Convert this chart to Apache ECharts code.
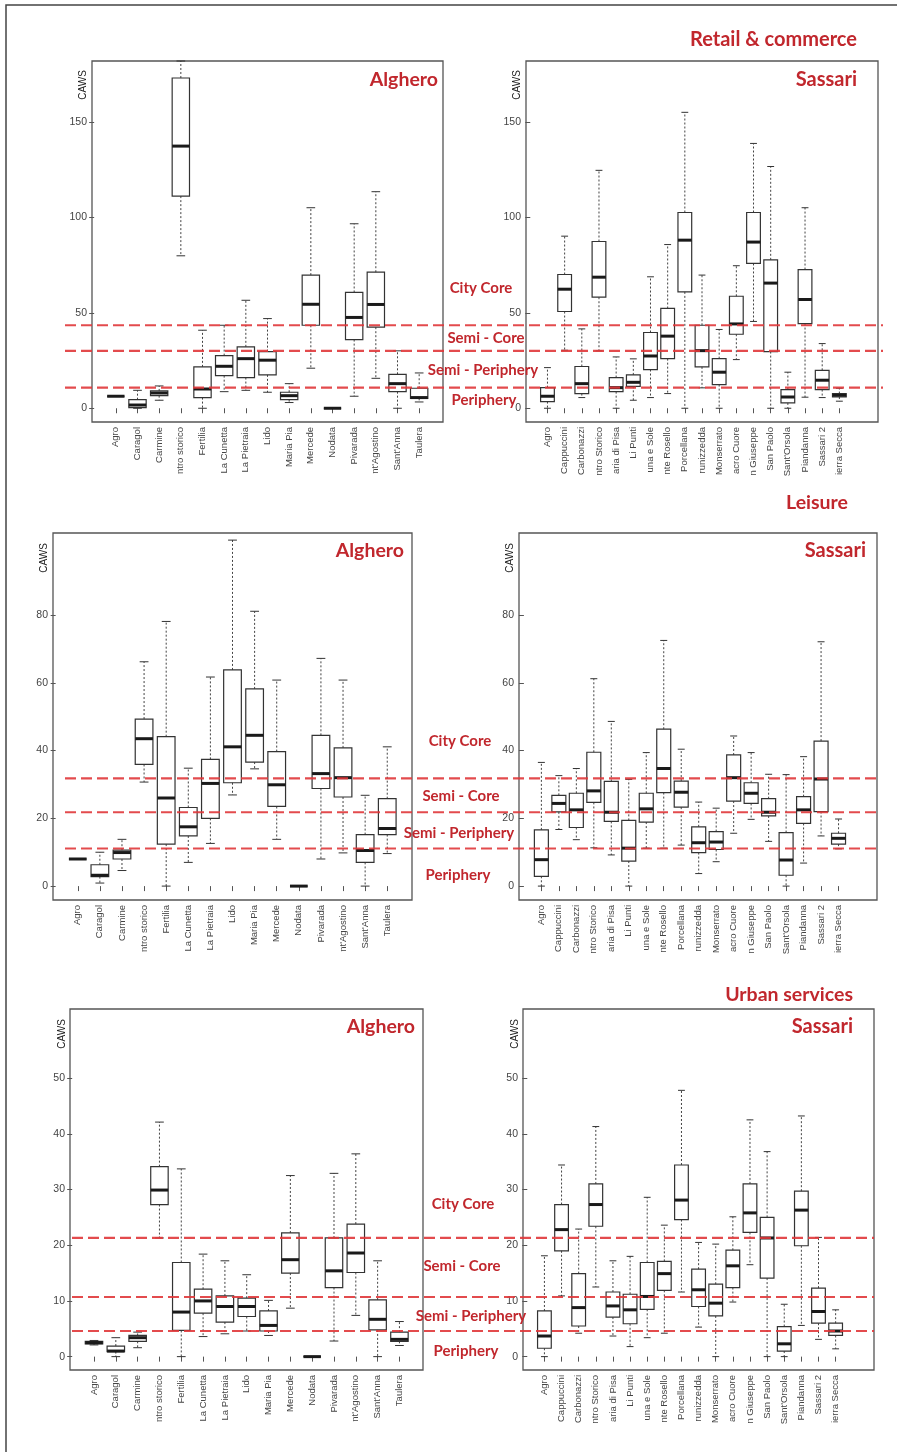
<!DOCTYPE html>
<html><head><meta charset="utf-8">
<script src="https://cdn.jsdelivr.net/npm/echarts@6/dist/echarts.min.js"></script>
<style>html,body{margin:0;padding:0;background:#fff}#c{width:897px;height:1452px}</style>
</head><body><div id="c"></div>
<script>
// ---------- categories ----------
const algheroCats = ['Agro','Caragol','Carmine','ntro storico','Fertilia','La Cunetta','La Pietraia','Lido','Maria Pia','Mercede','Nodata','Pivarada',"nt'Agostino","Sant'Anna",'Taulera'];
const sassariCats = ['Agro','Cappuccini','Carbonazzi','ntro Storico','aria di Pisa','Li Punti','una e Sole','nte Rosello','Porcellana','runizzedda','Monserrato','acro Cuore','n Giuseppe','San Paolo',"Sant'Orsola",'Piandanna','Sassari 2','ierra Secca'];

// ---------- values: [lower whisker, Q1, median, Q3, upper whisker] ----------
const retailAlghero = [
 [6.3,6.3,6.3,6.3,6.3],[0,0.3,1.7,4.5,9.4],[4.2,6.6,8.0,9.1,11.7],[79.9,111.2,137.4,173.1,182],
 [0,5.6,10.1,21.7,40.9],[8.7,17.1,22.0,27.6,43.5],[9.4,16.1,26.0,32.2,56.6],[8.4,17.5,25.2,29.7,47.0],
 [3.0,4.5,6.6,8.4,12.9],[21.0,43.5,54.5,69.8,105.1],[0,0,0,0,0],[6.3,36.0,47.6,60.7,96.7],
 [15.7,42.5,54.4,71.3,113.5],[0,8.7,12.9,17.8,30.1],[3.3,5.2,5.6,10.5,18.5]
];
const retailSassari = [
 [0,3.5,6.3,10.8,21.3],[30.4,50.7,62.4,70.1,90.2],[5.6,7.7,12.9,21.9,41.6],[30.1,58.2,68.7,87.4,124.7],
 [0,8.7,10.8,16.1,26.9],[4.2,11.5,13.6,17.5,25.9],[5.6,20.3,27.4,39.7,68.9],[7.7,26.0,37.8,52.3,85.8],
 [0,61.0,88.1,102.6,155.1],[10.7,21.7,30.2,43.5,69.8],[0,12.4,18.9,26.0,41.3],[25.5,38.8,44.2,58.7,74.7],
 [45.5,75.9,87.1,102.6,138.8],[0,29.7,65.6,77.8,126.7],[0,2.8,5.9,9.8,18.9],[5.8,44.4,57.0,72.7,105.1],
 [5.6,9.8,14.7,19.9,33.9],[3.7,5.9,6.8,7.7,10.5]
];
const leisureAlghero = [
 [8,8,8,8,8],[0.9,2.8,3.2,6.3,10.0],[4.6,8.0,9.9,10.6,13.8],[30.7,35.9,43.5,49.3,66.2],
 [0,12.4,26.0,44.1,78.1],[7.0,14.8,17.5,23.2,34.8],[12.6,20.0,30.3,37.4,61.7],[26.9,30.5,41.1,63.8,102.1],
 [34.6,36.6,44.5,58.2,81.1],[13.8,23.5,29.9,39.7,60.8],[0,0,0,0,0],[8.0,28.8,33.2,44.5,67.2],
 [9.8,26.3,32.0,40.8,60.8],[0,7.0,10.5,15.2,26.8],[9.6,15.2,17.0,25.8,41.1]
];
const leisureSassari = [
 [0,2.9,7.8,16.6,36.5],[16.7,21.9,24.4,26.8,32.6],[13.7,17.3,22.5,27.4,34.7],[11.3,24.7,28.1,39.5,61.2],
 [9.2,19.1,21.8,30.9,48.6],[0,7.4,11.2,19.4,31.5],[11.2,18.9,22.8,27.4,39.4],[11.2,27.6,34.7,46.3,72.5],
 [12.1,23.3,27.7,31.0,40.4],[3.7,9.9,12.8,17.5,24.8],[7.2,10.8,13.0,16.1,23.0],[15.6,25.1,32.0,38.7,44.3],
 [19.7,24.4,27.4,30.5,39.4],[13.2,20.7,21.8,25.8,33.0],[0,3.2,7.7,15.8,32.9],[6.8,18.5,22.5,26.4,38.2],
 [14.8,22.0,31.6,42.8,72.1],[11.0,12.4,14.1,15.6,19.8]
];
const urbanAlghero = [
 [2.1,2.3,2.5,2.75,2.9],[0,0.9,1.0,1.9,3.4],[1.6,2.75,3.4,3.8,4.4],[21.3,27.3,29.9,34.1,42.1],
 [0,4.7,8.0,16.9,33.7],[3.6,7.8,10.0,12.1,18.4],[4.1,6.2,9.0,10.9,17.2],[4.6,7.2,9.0,10.5,14.7],
 [3.8,4.6,5.6,8.2,10.1],[8.7,15.0,17.4,22.2,32.5],[0,0,0,0,0],[2.8,12.4,15.4,21.3,32.9],
 [7.4,15.1,18.6,23.8,36.4],[0,4.8,6.7,10.2,17.2],[2.0,2.75,3.1,4.4,6.3]
];
const urbanSassari = [
 [0,1.5,3.7,8.2,18.1],[10.9,19.0,22.8,27.3,34.4],[4.2,5.5,8.8,14.9,22.9],[12.5,23.4,27.3,31.0,41.3],
 [3.7,7.1,9.1,11.6,17.2],[1.8,5.9,8.4,11.2,18.0],[3.4,8.5,10.8,16.9,28.6],[4.2,11.9,14.9,17.1,23.6],
 [11.6,24.6,28.1,34.4,47.8],[5.3,9.0,12.0,15.7,20.5],[0,7.3,9.6,13.0,20.2],[9.8,12.4,16.3,19.1,25.1],
 [16.5,22.3,25.8,31.0,42.5],[0,14.1,21.3,25.0,36.8],[0,1.0,2.3,5.4,9.4],[5.6,19.9,26.3,29.7,43.2],
 [3.1,6.0,8.1,12.3,21.4],[1.4,3.8,4.6,6.0,8.4]
];

// ---------- thresholds (City Core / Semi-Core / Semi-Periphery boundaries) ----------
const retailThresholds = [43.5, 30.1, 10.8];
const leisureThresholds = [31.8, 21.8, 11.1];
const urbanThresholds = [21.3, 10.7, 4.6];

// ---------- tick labels ----------
const retailTicks = [0, 50, 100, 150];
const leisureTicks = [0, 20, 40, 60, 80];
const urbanTicks = [0, 10, 20, 30, 40, 50];

// ---------- layout ----------
const panels = [
  {grid:{left:92, top:61, width:351, height:361}, cats:algheroCats, data:retailAlghero, y:[-7.2,182], ticks:retailTicks, x:[-0.1,16.1], caws:[83,85]},
  {grid:{left:526, top:61, width:352, height:361}, cats:sassariCats, data:retailSassari, y:[-7.2,182], ticks:retailTicks, x:[-0.25,20.25], caws:[517,85]},
  {grid:{left:53, top:533, width:359, height:367}, cats:algheroCats, data:leisureAlghero, y:[-4.1,104.2], ticks:leisureTicks, x:[-0.12,16.12], caws:[44,558]},
  {grid:{left:519, top:533, width:358, height:367}, cats:sassariCats, data:leisureSassari, y:[-4.1,104.2], ticks:leisureTicks, x:[-0.28,20.2], caws:[510,558]},
  {grid:{left:70, top:1009, width:353, height:361}, cats:algheroCats, data:urbanAlghero, y:[-2.4,62.4], ticks:urbanTicks, x:[-0.1,16.08], caws:[62,1034]},
  {grid:{left:523, top:1009, width:351, height:361}, cats:sassariCats, data:urbanSassari, y:[-2.4,62.4], ticks:urbanTicks, x:[-0.25,20.24], caws:[515,1034]}
];
const overlays = [
  {grid:{left:65, top:61, width:818, height:361}, y:[-7.2,182], lines:retailThresholds},
  {grid:{left:65, top:533, width:812, height:367}, y:[-4.1,104.2], lines:leisureThresholds},
  {grid:{left:72, top:1009, width:802, height:361}, y:[-2.4,62.4], lines:urbanThresholds}
];

const RED = '#C1272D';
const DASH_RED = '#E0373A';
const axisFont = 'Liberation Sans, Arial, sans-serif';
const labelFont = 'Lato, "Open Sans", sans-serif';

function renderBox(params, api) {
  const x = api.value(0);
  const lo = api.value(1), q1 = api.value(2), med = api.value(3), q3 = api.value(4), hi = api.value(5);
  const bw = api.size([1, 0])[0] * 0.8;
  const pLo = api.coord([x, lo]), pQ1 = api.coord([x, q1]), pMed = api.coord([x, med]);
  const pQ3 = api.coord([x, q3]), pHi = api.coord([x, hi]);
  const cx = pMed[0];
  const thin = {stroke:'#333', lineWidth:1};
  const dashed = {stroke:'#444', lineWidth:1, lineDash:[2,2]};
  return {type:'group', children:[
    {type:'line', shape:{x1:cx, y1:pQ3[1], x2:cx, y2:pHi[1]}, style:dashed},
    {type:'line', shape:{x1:cx, y1:pQ1[1], x2:cx, y2:pLo[1]}, style:dashed},
    {type:'line', shape:{x1:cx-bw/4, y1:pHi[1], x2:cx+bw/4, y2:pHi[1]}, style:thin},
    {type:'line', shape:{x1:cx-bw/4, y1:pLo[1], x2:cx+bw/4, y2:pLo[1]}, style:thin},
    {type:'rect', shape:{x:cx-bw/2, y:pQ3[1], width:bw, height:pQ1[1]-pQ3[1]}, style:{fill:'rgba(255,255,255,0)', stroke:'#333', lineWidth:1.2}},
    {type:'line', shape:{x1:cx-bw/2, y1:pMed[1], x2:cx+bw/2, y2:pMed[1]}, style:{stroke:'#1a1a1a', lineWidth:3}}
  ]};
}
function renderHLine(params, api) {
  const v = api.value(1);
  const a = api.coord([0, v]), b = api.coord([1, v]);
  return {type:'line', shape:{x1:a[0], y1:a[1], x2:b[0], y2:b[1]}, style:{stroke:DASH_RED, lineWidth:2.2, lineDash:[11,5], opacity:0.9}};
}

const grid = [], xAxis = [], yAxis = [], series = [];
panels.forEach((p, i) => {
  grid.push(Object.assign({show:true, borderColor:'#555', borderWidth:1.3, backgroundColor:'transparent'}, p.grid));
  const idx = p.cats.map((c, k) => k + 1);
  xAxis.push({type:'value', gridIndex:i, min:p.x[0], max:p.x[1],
    axisLine:{show:false}, splitLine:{show:false},
    axisTick:{show:true, customValues:idx, length:5, lineStyle:{color:'#555'}},
    axisLabel:{show:true, customValues:idx, rotate:90, margin:5, fontSize:9.5, color:'#444', fontFamily:axisFont,
      formatter:(v) => p.cats[Math.round(v) - 1] || ''}});
  yAxis.push({type:'value', gridIndex:i, min:p.y[0], max:p.y[1],
    axisLine:{show:false}, splitLine:{show:false},
    axisTick:{show:true, customValues:p.ticks, length:5, lineStyle:{color:'#555'}},
    axisLabel:{show:true, customValues:p.ticks, margin:5, fontSize:10.5, color:'#444', fontFamily:axisFont}});
  series.push({type:'custom', xAxisIndex:i, yAxisIndex:i, renderItem:renderBox, clip:false, z:2,
    encode:{x:0, y:[1,2,3,4,5]},
    data:p.data.map((d, k) => [k + 1].concat(d))});
});
overlays.forEach((o, j) => {
  const gi = panels.length + j;
  grid.push(Object.assign({show:false}, o.grid));
  xAxis.push({type:'value', gridIndex:gi, min:0, max:1, show:false});
  yAxis.push({type:'value', gridIndex:gi, min:o.y[0], max:o.y[1], show:false});
  series.push({type:'custom', xAxisIndex:gi, yAxisIndex:gi, renderItem:renderHLine, clip:false, z:5,
    encode:{x:0, y:1}, data:o.lines.map(v => [0, v])});
});

function txt(x, y, text, size, align) {
  return {type:'text', x:x, y:y, z:10, style:{text:text, fill:RED, font:'bold ' + size + 'px ' + labelFont, align:align || 'center', verticalAlign:'middle'}};
}
const graphics = [
  {type:'rect', shape:{x:6, y:5, width:1000, height:2000}, style:{fill:'none', stroke:'#444', lineWidth:1.5}, z:0},
  txt(857, 40, 'Retail & commerce', 20, 'right'),
  txt(438, 80, 'Alghero', 19.5, 'right'), txt(857, 80, 'Sassari', 20, 'right'),
  txt(481, 288, 'City Core', 15), txt(486, 338, 'Semi - Core', 15), txt(483, 370, 'Semi - Periphery', 15), txt(484, 400, 'Periphery', 15),
  txt(848, 503, 'Leisure', 19.5, 'right'),
  txt(404, 551, 'Alghero', 19.5, 'right'), txt(866, 551, 'Sassari', 20, 'right'),
  txt(460, 741, 'City Core', 15), txt(461, 796, 'Semi - Core', 15), txt(459, 833, 'Semi - Periphery', 15), txt(458, 875, 'Periphery', 15),
  txt(853, 995, 'Urban services', 19.5, 'right'),
  txt(415, 1027, 'Alghero', 19.5, 'right'), txt(853, 1027, 'Sassari', 20, 'right'),
  txt(463, 1204, 'City Core', 15), txt(462, 1266, 'Semi - Core', 15), txt(471, 1316, 'Semi - Periphery', 15), txt(466, 1351, 'Periphery', 15)
];
panels.forEach(p => {
  graphics.push({type:'text', x:p.caws[0], y:p.caws[1], rotation:Math.PI/2, z:10,
    style:{text:'CAWS', fill:'#222', font:'10px ' + axisFont, align:'center', verticalAlign:'middle'}});
});

const chart = echarts.init(document.getElementById('c'), null, {renderer:'canvas'});
chart.setOption({animation:false, backgroundColor:'#fff', grid, xAxis, yAxis, series, graphic:graphics});
</script></body></html>
